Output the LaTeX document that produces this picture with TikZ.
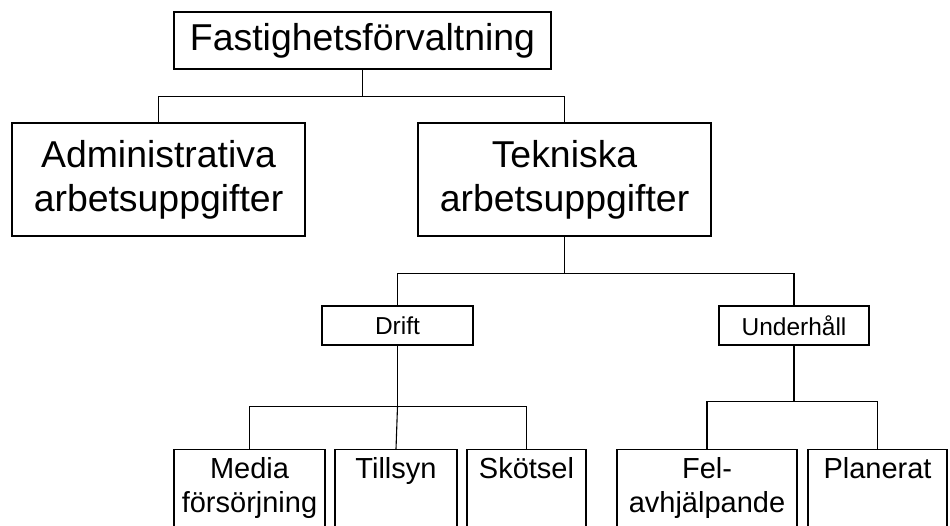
\documentclass[tikz,border=0pt]{standalone}
\usepackage{fontspec}
\setmainfont{Liberation Sans}
\usetikzlibrary{calc}
\begin{document}
\begin{tikzpicture}[x=1pt,y=1pt,
  box/.style={draw, line width=1.1pt, inner sep=0pt, align=center},
  big/.style={font=\fontsize{37.4}{44}\selectfont},
  mid/.style={font=\fontsize{24.5}{29}\selectfont},
  small/.style={font=\fontsize{29}{34}\selectfont},
  wire/.style={line width=1.1pt}]
\useasboundingbox (0,0) rectangle (950,-525);

% upper levels
\node[box, big, minimum width=377, minimum height=57] (top) at (362.5,-40.5) {Fastighetsförvaltning};
\node[box, big, minimum width=293, minimum height=113] (adm) at (158.5,-179.5) {Administrativa\\arbetsuppgifter};
\node[box, big, minimum width=293, minimum height=113] (tek) at (564.5,-179.5) {Tekniska\\arbetsuppgifter};
\node[box, mid, minimum width=151, minimum height=39] (drift) at (397.5,-325.5) {Drift};
\node[box, mid, minimum width=150, minimum height=39] (uh) at (794,-325.5) {Underhåll};

% bottom level: boxes run past the lower edge
\node[box, minimum width=151, minimum height=100, anchor=north] (media) at (249.5,-449) {};
\node[box, minimum width=122, minimum height=100, anchor=north] (tills) at (396,-449) {};
\node[box, minimum width=119, minimum height=100, anchor=north] (skot) at (526.5,-449) {};
\node[box, minimum width=180, minimum height=100, anchor=north] (fel) at (707,-449) {};
\node[box, minimum width=139, minimum height=100, anchor=north] (plan) at (877.5,-449) {};

\node[small, align=center, anchor=north] (mediaT) at ([yshift=-5]media.north) {Media\\försörjning};
\node[small, align=center, anchor=north] (tillsT) at ([yshift=-5]tills.north) {Tillsyn};
\node[small, align=center, anchor=north] (skotT) at ([yshift=-5]skot.north) {Skötsel};
\node[small, align=center, anchor=north] (felT) at ([yshift=-5]fel.north) {Fel-\\avhjälpande};
\node[small, align=center, anchor=north] (planT) at ([yshift=-5]plan.north) {Planerat};

% connectors
\coordinate (j1) at ($(top.south)+(0,-27)$);
\draw[wire] (top.south) -- (j1) -| (adm.north);
\draw[wire] (j1) -| (tek.north);

\coordinate (j2) at ($(tek.south)+(0,-37)$);
\draw[wire] (tek.south) -- (j2) -| (drift.north);
\draw[wire] (j2) -| (uh.north);

\coordinate (j3) at ($(drift.south)+(0,-61)$);
\draw[wire] (drift.south) -- (j3) -| (media.north);
\draw[wire] (j3) -| (skot.north);
\draw[wire] (j3) -- (tills.north);

\coordinate (j4) at ($(uh.south)+(0,-56)$);
\draw[wire] (uh.south) -- (j4) -| (fel.north);
\draw[wire] (j4) -| (plan.north);
\end{tikzpicture}
\end{document}
